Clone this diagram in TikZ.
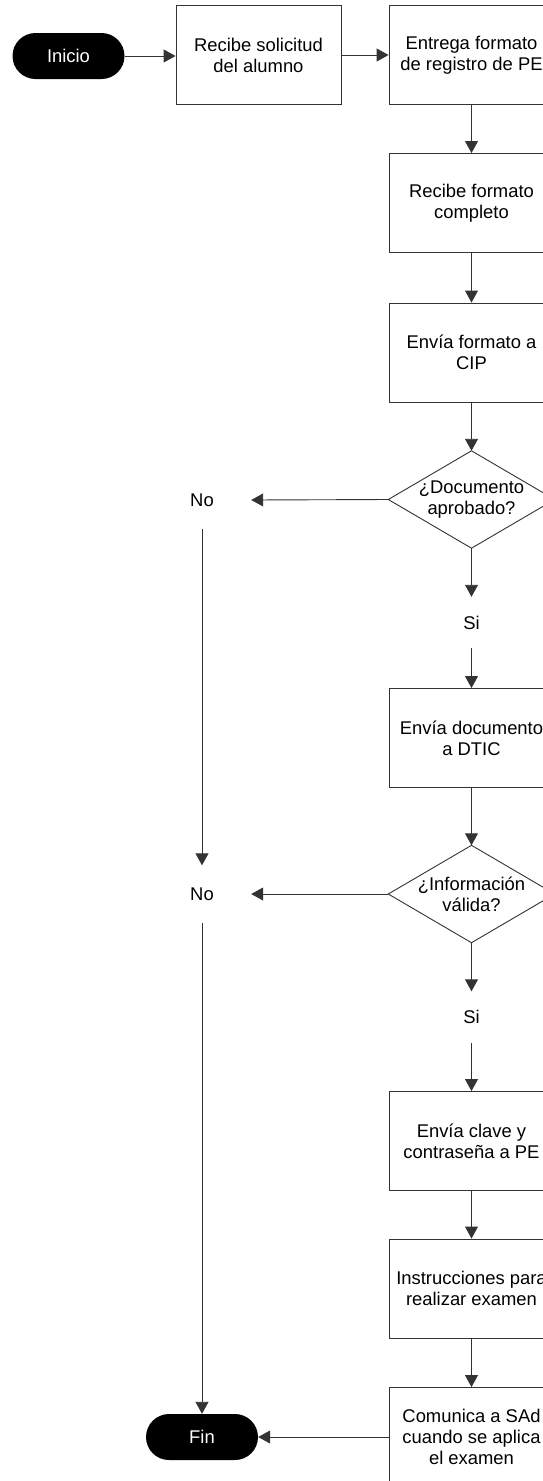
\documentclass[tikz,border=0pt]{standalone}
\usepackage{fontspec}
\setmainfont{Liberation Sans}
\usetikzlibrary{arrows.meta}
\begin{document}
\begin{tikzpicture}[x=1pt,y=-1pt,
  txt/.style={font=\fontsize{18.4}{21}\selectfont, align=center},
  box/.style={txt, draw=black!80, line width=0.9pt, minimum width=165pt, minimum height=99pt, inner sep=0pt},
  dia/.style={txt, minimum width=166pt, minimum height=97pt, inner sep=0pt},
  term/.style={txt, fill=black, text=white, rounded corners=23pt, minimum width=112pt, minimum height=46pt, inner sep=0pt},
  lab/.style={txt, inner sep=0pt},
  nolab/.style={lab, minimum width=98pt, minimum height=57pt},
  silab/.style={lab, minimum height=51pt},
  conn/.style={draw=black!80, line width=0.9pt},
  arr/.style={conn, -{Triangle[length=12pt,width=13pt]}}]
\useasboundingbox (0,0) rectangle (543,1481);
\clip (0,0) rectangle (543,1481);
\fill[white] (0,0) rectangle (543,1481);

\node[term] (ini) at (68.5,56) {Inicio};
\node[box] (b1) at (258.5,55) {Recibe solicitud\\del alumno};
\node[box] (b2) at (471.5,55) {Entrega formato\\de registro de PE};
\node[box] (b3) at (471.5,203) {Recibe formato\\completo};
\node[box] (b4) at (471.5,352.5) {Envía formato a\\CIP};
\node[dia] (d1) at (471.5,499.5) {¿Documento\\aprobado?};
\node[nolab] (no1) at (202,500) {No};
\node[silab] (si1) at (471.5,622.5) {Si};
\node[box] (b5) at (471.5,738) {Envía documento\\a DTIC};
\node[dia] (d2) at (471.5,894) {¿Información\\válida?};
\node[nolab] (no2) at (202,894) {No};
\node[silab] (si2) at (471.5,1017) {Si};
\node[box] (b6) at (471.5,1141) {Envía clave y\\contraseña a PE};
\node[box] (b7) at (471.5,1288.5) {Instrucciones para\\realizar examen};
\node[box] (b8) at (471.5,1437) {Comunica a SAd\\cuando se aplica\\el examen};
\node[term] (fin) at (202,1437) {Fin};

\draw[conn] (d1.north) -- (d1.east) -- (d1.south) -- (d1.west) -- cycle;
\draw[conn] (d2.north) -- (d2.east) -- (d2.south) -- (d2.west) -- cycle;

\draw[arr] (ini.east) -- (ini.east -| b1.west);
\draw[arr] (b1.east) -- (b2.west);
\draw[arr] (b2.south) -- (b3.north);
\draw[arr] (b3.south) -- (b4.north);
\draw[arr] (b4.south) -- (d1.north);
\draw[arr] (d1.west) -- (no1.east);
\draw[arr] (d1.south) -- (si1.north);
\draw[arr] (si1.south) -- (b5.north);
\draw[arr] (b5.south) -- (d2.north);
\draw[arr] (d2.west) -- (no2.east);
\draw[arr] (d2.south) -- (si2.north);
\draw[arr] (si2.south) -- (b6.north);
\draw[arr] (b6.south) -- (b7.north);
\draw[arr] (b7.south) -- (b8.north);
\draw[arr] (b8.west) -- (fin.east);
\draw[arr] (no1.south) -- (no2.north);
\draw[arr] (no2.south) -- (fin.north);
\end{tikzpicture}
\end{document}
